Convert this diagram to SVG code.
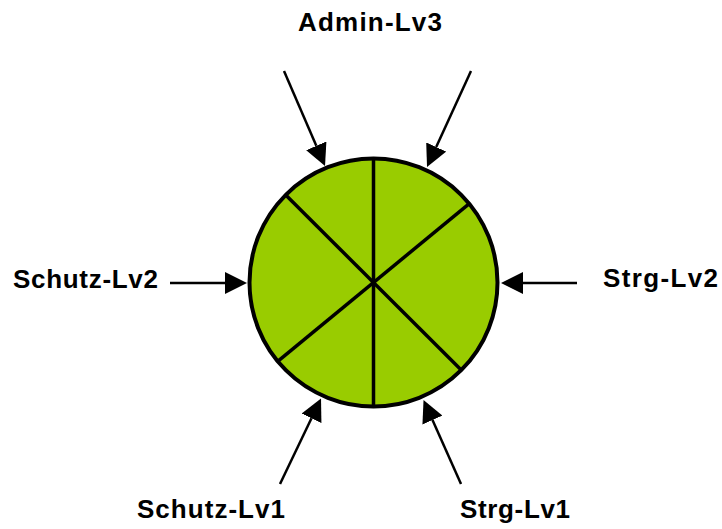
<svg xmlns="http://www.w3.org/2000/svg" width="722" height="529" viewBox="0 0 722 529">
<style>
.lbl{font-family:"Liberation Sans",Arial,sans-serif;font-weight:bold;font-size:26px;fill:#000}
.conn{stroke:#000;stroke-width:2.5;fill:none}
.div{stroke:#000;stroke-width:3.5;fill:none}
</style>
<defs>
<marker id="ah" markerUnits="userSpaceOnUse" markerWidth="22" markerHeight="22" viewBox="0 0 22 22" refX="0" refY="11" orient="auto">
<path d="M0,0 L22,11 L0,22 z" fill="#000"/>
</marker>
</defs>
<rect width="722" height="529" fill="#fff"/>
<g id="circle">
<circle cx="373.5" cy="282.5" r="124" fill="#99CC00" stroke="#000" stroke-width="4"/>
<line class="div" x1="373.5" y1="158.5" x2="373.5" y2="406.5"/>
<line class="div" x1="285.5" y1="194.8" x2="461.5" y2="370.2"/>
<line class="div" x1="469.3" y1="203.6" x2="277.7" y2="361.4"/>
</g>
<g id="admin-lv3"><text class="lbl" x="298" y="31" textLength="144" lengthAdjust="spacing">Admin-Lv3</text></g>
<g id="schutz-lv2"><text class="lbl" x="13" y="288" textLength="145" lengthAdjust="spacing">Schutz-Lv2</text></g>
<g id="strg-lv2"><text class="lbl" x="603" y="287" textLength="115" lengthAdjust="spacing">Strg-Lv2</text></g>
<g id="schutz-lv1"><text class="lbl" x="137" y="518" textLength="148" lengthAdjust="spacing">Schutz-Lv1</text></g>
<g id="strg-lv1"><text class="lbl" x="460" y="518" textLength="110" lengthAdjust="spacing">Strg-Lv1</text></g>
<g id="connectors">
<line class="conn" x1="284" y1="71" x2="316.3" y2="145.8" marker-end="url(#ah)"/>
<line class="conn" x1="471" y1="71" x2="436.2" y2="147" marker-end="url(#ah)"/>
<line class="conn" x1="170" y1="283" x2="225" y2="283" marker-end="url(#ah)"/>
<line class="conn" x1="577" y1="283" x2="523" y2="283" marker-end="url(#ah)"/>
<line class="conn" x1="280" y1="484" x2="311.5" y2="418.3" marker-end="url(#ah)"/>
<line class="conn" x1="461" y1="484" x2="432.5" y2="420.1" marker-end="url(#ah)"/>
</g>
</svg>
